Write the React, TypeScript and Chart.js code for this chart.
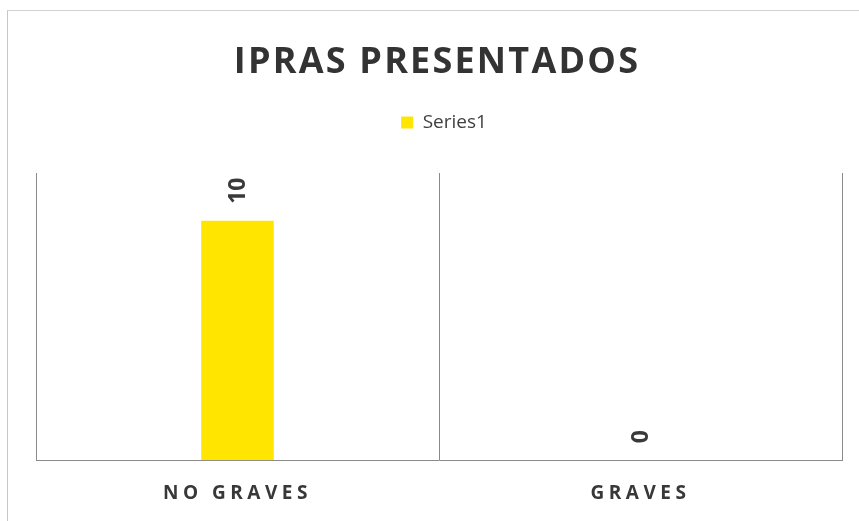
import React, { useEffect, useRef } from 'react';
import { Chart, registerables } from 'chart.js';

Chart.register(...registerables);

const titleText = 'IPRAS PRESENTADOS';
const categories = ['NO GRAVES', 'GRAVES'];
const seriesName = 'Series1';
const values = [10, 0];
const yMin = 0;
const yMax = 12;

export default function App() {
  const ref = useRef<HTMLCanvasElement>(null);

  useEffect(() => {
    const canvas = ref.current;
    if (!canvas) return;

    const legendGap = {
      id: 'legendGap',
      beforeLayout(chart: any) {
        const lg = chart.legend;
        if (lg && !lg._gapPatched) {
          const orig = lg.fit;
          lg.fit = function () {
            orig.call(this);
            this.height += 31;
          };
          lg._gapPatched = true;
        }
      },
      afterLayout(chart: any) {
        const lg = chart.legend;
        if (lg) {
          lg.left += 5;
          lg.right += 5;
        }
      },
    };

    const titlePlugin = {
      id: 'customTitle',
      afterDraw(chart: any) {
        const ctx = chart.ctx;
        (ctx as any).letterSpacing = '0px';
        ctx.save();
        (ctx as any).letterSpacing = '2.2px';
        ctx.font = 'bold 36px "Open Sans"';
        ctx.fillStyle = '#333333';
        ctx.textAlign = 'center';
        ctx.textBaseline = 'alphabetic';
        ctx.fillText(titleText, 437, 73);
        ctx.restore();
        (ctx as any).letterSpacing = '0px';
      },
    };

    const dataLabels = {
      id: 'dataLabels',
      afterDatasetsDraw(chart: any) {
        const ctx = chart.ctx;
        const meta = chart.getDatasetMeta(0);
        ctx.save();
        (ctx as any).letterSpacing = '0px';
        ctx.font = 'bold 23px "Open Sans"';
        ctx.fillStyle = '#3a3a3a';
        meta.data.forEach((bar: any, i: number) => {
          const v = chart.data.datasets[0].data[i];
          ctx.save();
          ctx.translate(bar.x, bar.y - 17);
          ctx.rotate(-Math.PI / 2);
          ctx.textAlign = 'left';
          ctx.textBaseline = 'middle';
          ctx.fillText(String(v), 0, 1);
          ctx.restore();
        });
        ctx.restore();
        // letter spacing for the x axis labels (drawn after datasets, ticks.z = 1)
        (ctx as any).letterSpacing = '4.5px';
      },
    };

    const chart = new Chart(canvas, {
      type: 'bar',
      data: {
        labels: categories,
        datasets: [
          {
            label: seriesName,
            data: values,
            backgroundColor: '#FFE500',
            borderWidth: 0,
            barPercentage: 0.18,
            categoryPercentage: 1,
          },
        ],
      },
      options: {
        responsive: false,
        animation: false,
        layout: {
          padding: { top: 103, left: 36, right: 17, bottom: 3 },
        },
        plugins: {
          title: { display: false },
          tooltip: { enabled: false },
          legend: {
            display: true,
            position: 'top',
            labels: {
              boxWidth: 12,
              boxHeight: 12,
              padding: 10,
              color: '#404040',
              font: { family: '"Open Sans"', size: 19 },
            },
          },
        },
        scales: {
          x: {
            offset: true,
            grid: {
              display: true,
              offset: true,
              color: '#8a8a8a',
              lineWidth: 1,
              drawTicks: false,
            },
            border: { display: true, color: '#8a8a8a', width: 1 },
            ticks: {
              z: 1,
              color: '#383838',
              padding: 22,
              font: { family: '"Open Sans"', size: 19, weight: 'bold' },
            },
          },
          y: {
            display: false,
            min: yMin,
            max: yMax,
          },
        },
      },
      plugins: [legendGap, dataLabels, titlePlugin],
    });

    return () => chart.destroy();
  }, []);

  return (
    <div style={{ position: 'absolute', left: 0, top: 0, width: 859, height: 521, overflow: 'hidden', background: '#ffffff' }}>
      <div
        style={{
          position: 'absolute',
          left: 7,
          top: 10,
          width: 860,
          height: 520,
          borderTop: '1px solid #d2d2d2',
          borderLeft: '1px solid #c8c8c8',
        }}
      />
      <canvas ref={ref} width={859} height={530} style={{ position: 'absolute', left: 0, top: 0 }} />
    </div>
  );
}
